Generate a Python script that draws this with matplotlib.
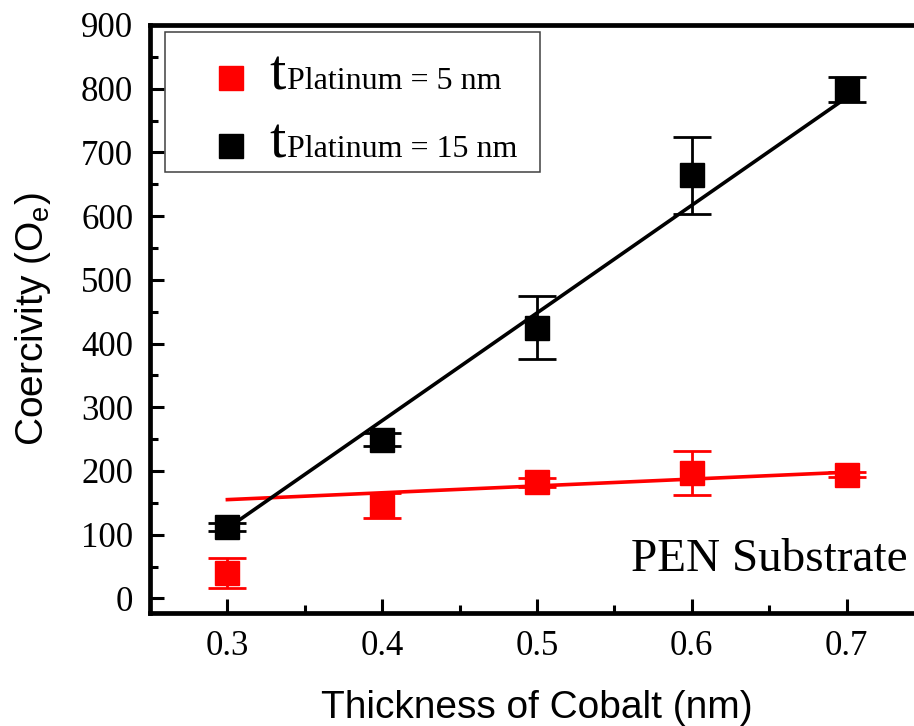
import matplotlib
matplotlib.use('Agg')
import matplotlib.pyplot as plt
from matplotlib.patches import Rectangle
from matplotlib.ticker import MultipleLocator
from matplotlib.transforms import IdentityTransform

# data
thickness = [0.3, 0.4, 0.5, 0.6, 0.7]
hc_pt5 = [40, 146, 182, 197, 194]
err_pt5 = [24, 20, 7, 34, 4]
hc_pt15 = [112, 249, 425, 664, 799]
err_pt15 = [6, 10, 50, 60, 20]
# linear fit lines (end points)
fit_x = [0.3, 0.7]
fit_pt5 = [155, 198]
fit_pt15 = [110, 786]
labels = ['Platinum = 5 nm', 'Platinum = 15 nm']
colors = ['#ff0000', '#000000']

serif = 'Liberation Serif'
sans = 'Liberation Sans'

fig = plt.figure(figsize=(9.14, 7.26), dpi=100)
# axes runs past the right edge like the original crop
ax = fig.add_axes([0.1641, 0.1556, 0.8468, 0.810])

ax.plot(fit_x, fit_pt5, color=colors[0], lw=2.6, zorder=2)
ax.plot(fit_x, fit_pt15, color=colors[1], lw=2.6, zorder=2)

handles = []
for y, e, c in [(hc_pt5, err_pt5, colors[0]), (hc_pt15, err_pt15, colors[1])]:
    cont = ax.errorbar(thickness, y, yerr=e, fmt='s', color=c, ms=17,
                       elinewidth=2.0, capsize=13.5, capthick=2.0, zorder=3)
    handles.append(cont[0])

ax.set_xlim(0.25, 0.75)
ax.set_ylim(-23, 900)
ax.xaxis.set_major_locator(MultipleLocator(0.1))
ax.xaxis.set_minor_locator(MultipleLocator(0.05))
ax.yaxis.set_major_locator(MultipleLocator(100))
ax.yaxis.set_minor_locator(MultipleLocator(50))
ax.tick_params(which='both', direction='in', top=False, right=False)
ax.tick_params(which='major', length=10, width=2.2, pad=12)
ax.tick_params(which='minor', length=5.5, width=2.2)
for lab in ax.get_xticklabels() + ax.get_yticklabels():
    lab.set_fontfamily(serif)
    lab.set_fontsize(25)
for s in ax.spines.values():
    s.set_linewidth(3.4)

ax.set_xlabel('Thickness of Cobalt (nm)', family=sans, fontsize=28, labelpad=20)
ax.set_ylabel(r'Coercivity (O$_\mathregular{e}$)', family=sans, fontsize=28, labelpad=20)

ax.text(0.561, 43, 'PEN Substrate', family=serif, fontsize=34, ha='left', va='baseline')

# legend (frame drawn separately)
leg = ax.legend(handles, labels, loc='upper left', bbox_to_anchor=(0.084, 0.9286),
                frameon=False, borderpad=0, borderaxespad=0, numpoints=1,
                handlelength=1.0, handletextpad=1.25, labelspacing=1.21,
                prop={'family': serif, 'size': 23})
ax.add_patch(Rectangle((0.0194, 0.75), 0.4845, 0.238, transform=ax.transAxes,
                       fill=False, lw=1.1, edgecolor='#404040', zorder=5))

# big "t" in front of each legend label
fig.canvas.draw()
for t in leg.get_texts():
    x, y = t.get_transform().transform(t.get_position())
    fig.text(x - 1, y, 't', transform=IdentityTransform(), family=serif,
             fontsize=42, ha='right', va='baseline')

fig.savefig('out.png', dpi=100)
